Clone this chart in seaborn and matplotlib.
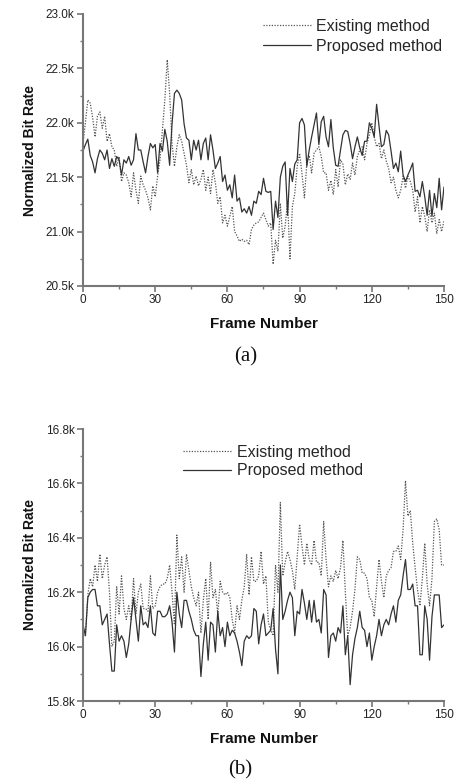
import numpy as np
import matplotlib
matplotlib.use("Agg")
import matplotlib.pyplot as plt
from matplotlib.ticker import MultipleLocator, FuncFormatter
from matplotlib.lines import Line2D
import seaborn as sns

sns.set_theme(style="ticks")
plt.rcParams["font.family"] = ["Liberation Sans", "DejaVu Sans"]

# frame index 0..150
frames = np.arange(0, 151)

# (a) normalized bit rate in k
exist_a = [
    21.81, 22.00, 22.21, 22.18, 22.05, 21.87, 22.06, 22.10, 21.95, 22.06,
    21.83, 21.90, 21.78, 21.75, 21.60, 21.69, 21.46, 21.54, 21.52, 21.45,
    21.32, 21.54, 21.38, 21.26, 21.51, 21.43, 21.38, 21.31, 21.20, 21.42,
    21.32, 21.51, 21.66, 21.93, 22.21, 22.58, 22.27, 21.81, 21.60, 21.78,
    21.89, 21.83, 21.72, 21.61, 21.45, 21.57, 21.43, 21.51, 21.42, 21.48,
    21.57, 21.38, 21.50, 21.35, 21.57, 21.45, 21.26, 21.32, 21.08, 21.15,
    21.05, 21.14, 21.23, 21.00, 20.96, 20.91, 20.93, 20.91, 20.92, 20.88,
    21.02, 21.06, 21.08, 21.09, 21.13, 21.17, 21.11, 21.05, 21.08, 20.70,
    20.92, 20.82, 21.26, 20.94, 21.05, 21.28, 20.75, 21.23, 21.35, 21.60,
    21.72, 21.53, 21.31, 21.63, 21.70, 21.54, 21.72, 21.75, 21.78, 21.69,
    21.54, 21.54, 21.38, 21.47, 21.34, 21.57, 21.41, 21.66, 21.62, 21.43,
    21.53, 21.48, 21.63, 21.52, 21.69, 21.75, 21.78, 21.66, 21.81, 21.89,
    22.00, 21.87, 21.78, 21.81, 21.67, 21.75, 21.65, 21.58, 21.45, 21.50,
    21.38, 21.31, 21.38, 21.51, 21.40, 21.51, 21.46, 21.38, 21.18, 21.32,
    21.08, 21.23, 21.14, 21.00, 21.20, 21.08, 21.17, 20.98, 21.11, 21.00,
    21.10,
]
prop_a = [
    21.74, 21.80, 21.85, 21.70, 21.64, 21.54, 21.67, 21.75, 21.72, 21.66,
    21.75, 21.58, 21.67, 21.60, 21.69, 21.66, 21.52, 21.66, 21.63, 21.69,
    21.61, 21.66, 21.90, 21.75, 21.75, 21.64, 21.54, 21.69, 21.81, 21.77,
    21.80, 21.54, 21.81, 21.74, 21.94, 21.83, 21.61, 21.99, 22.27, 22.30,
    22.27, 22.21, 21.99, 21.86, 21.84, 21.66, 21.84, 21.75, 21.84, 21.66,
    21.81, 21.86, 21.66, 21.89, 21.75, 21.58, 21.63, 21.69, 21.46, 21.52,
    21.38, 21.43, 21.31, 21.52, 21.28, 21.31, 21.18, 21.21, 21.17, 21.23,
    21.15, 21.28, 21.26, 21.37, 21.34, 21.49, 21.37, 21.36, 21.37, 21.02,
    21.28, 21.13, 21.50, 21.60, 21.64, 21.15, 21.58, 21.46, 21.62, 21.66,
    22.00, 22.04, 21.98, 21.60, 21.75, 21.87, 21.98, 22.09, 21.80, 22.01,
    22.06, 21.87, 21.78, 22.03, 21.77, 21.61, 21.60, 21.75, 21.89, 21.93,
    21.92, 21.81, 21.67, 21.78, 21.87, 21.77, 21.70, 21.83, 21.83, 22.00,
    21.95, 21.87, 22.17, 21.97, 21.78, 21.80, 21.93, 21.89, 21.74, 21.58,
    21.63, 21.55, 21.74, 21.52, 21.46, 21.52, 21.57, 21.63, 21.37, 21.38,
    21.32, 21.46, 21.32, 21.15, 21.38, 21.14, 21.35, 21.22, 21.49, 21.20,
    21.41,
]

# (b) normalized bit rate in k
exist_b = [
    16.04, 16.04, 16.19, 16.25, 16.22, 16.30, 16.24, 16.34, 16.25, 16.30,
    16.33, 16.20, 16.00, 16.02, 16.22, 16.12, 16.26, 16.14, 16.10, 16.15,
    16.10, 16.25, 16.12, 16.20, 16.23, 16.14, 16.14, 16.13, 16.26, 16.14,
    16.15, 16.20, 16.22, 16.23, 16.23, 16.25, 16.30, 16.20, 16.08, 16.41,
    16.25, 16.33, 16.20, 16.34, 16.28, 16.22, 16.18, 16.15, 16.20, 16.05,
    16.17, 16.25, 16.10, 16.31, 16.18, 16.21, 16.12, 16.24, 16.20, 16.19,
    16.20, 16.18, 16.10, 16.05, 16.15, 16.10, 16.17, 16.22, 16.34, 16.19,
    16.33, 16.24, 16.24, 16.26, 16.35, 16.23, 16.26, 16.09, 16.06, 16.04,
    16.30, 16.20, 16.53, 16.26, 16.31, 16.35, 16.32, 16.28, 16.21, 16.33,
    16.45, 16.37, 16.30, 16.38, 16.32, 16.30, 16.39, 16.31, 16.31, 16.26,
    16.46, 16.32, 16.22, 16.26, 16.24, 16.28, 16.25, 16.29, 16.39, 16.20,
    16.04, 16.07, 16.13, 16.21, 16.33, 16.32, 16.27, 16.27, 16.25, 16.18,
    16.17, 16.11, 16.22, 16.32, 16.24, 16.18, 16.26, 16.28, 16.29, 16.35,
    16.35, 16.37, 16.32, 16.43, 16.61, 16.48, 16.50, 16.38, 16.29, 16.21,
    16.15, 16.25, 16.38, 16.23, 16.15, 16.25, 16.46, 16.47, 16.43, 16.30,
    16.30,
]
prop_b = [
    16.08, 16.04, 16.18, 16.20, 16.21, 16.21, 16.15, 16.15, 16.08, 16.10,
    16.12, 16.01, 15.91, 15.91, 16.08, 16.02, 16.04, 16.02, 15.96, 16.01,
    16.10, 16.18, 16.10, 16.02, 16.15, 16.08, 16.09, 16.07, 16.15, 16.05,
    16.04, 16.13, 16.13, 16.11, 16.11, 16.12, 16.15, 16.09, 15.98, 16.20,
    16.12, 16.07, 16.17, 16.17, 16.13, 16.10, 16.06, 16.04, 16.04, 15.89,
    16.01, 16.09, 15.95, 16.09, 16.08, 15.98, 16.13, 16.04, 16.07, 16.00,
    16.09, 16.04, 16.06, 16.05, 16.02, 15.98, 15.93, 16.02, 16.04, 16.03,
    16.04, 16.14, 16.13, 16.01, 16.08, 16.12, 16.04, 16.05, 16.06, 16.14,
    15.99, 15.90, 16.30, 16.10, 16.13, 16.17, 16.20, 16.18, 16.04, 16.13,
    16.12, 16.21, 16.16, 16.10, 16.17, 16.09, 16.17, 16.09, 16.10, 16.05,
    16.21, 16.19, 15.96, 16.04, 16.05, 16.02, 16.07, 16.05, 16.15, 15.97,
    16.04, 15.86, 15.97, 16.03, 16.07, 16.13, 16.07, 16.06, 16.00, 16.05,
    15.95, 16.00, 16.04, 16.10, 16.04, 16.08, 16.10, 16.08, 16.12, 16.15,
    16.09, 16.17, 16.19, 16.26, 16.32, 16.21, 16.21, 16.23, 16.15, 16.15,
    15.97, 15.97, 16.15, 16.10, 15.95, 16.11, 16.19, 16.19, 16.19, 16.07,
    16.08,
]

labels = ["Existing method", "Proposed method"]
EXIST_COLOR = "#555555"
PROP_COLOR = "#333333"
SPINE_COLOR = "#777777"

fig = plt.figure(figsize=(4.56, 7.82), dpi=100)
ax_a = fig.add_axes([83 / 456, 1 - 286 / 782, 361 / 456, 272 / 782])
ax_b = fig.add_axes([83 / 456, 1 - 701 / 782, 361 / 456, 272 / 782])


def style_axis(ax, ylim, major, minor):
    ax.set_xlim(0, 150)
    ax.set_ylim(*ylim)
    ax.xaxis.set_major_locator(MultipleLocator(30))
    ax.xaxis.set_minor_locator(MultipleLocator(15))
    ax.yaxis.set_major_locator(MultipleLocator(major))
    ax.yaxis.set_minor_locator(MultipleLocator(minor))
    ax.yaxis.set_major_formatter(FuncFormatter(lambda v, p: f"{v:.1f}k"))
    for side in ["top", "right"]:
        ax.spines[side].set_visible(False)
    for side in ["left", "bottom"]:
        ax.spines[side].set_color(SPINE_COLOR)
        ax.spines[side].set_linewidth(1.5)
    ax.tick_params(which="major", direction="out", length=4, width=1.2,
                   color=SPINE_COLOR, labelsize=8.5, labelcolor="#222222", pad=2)
    ax.tick_params(which="minor", direction="out", length=2.5, width=1.0,
                   color=SPINE_COLOR)
    ax.set_xlabel("Frame Number", fontsize=11, fontweight="bold",
                  color="#111111", labelpad=8)
    ax.set_ylabel("Normalized Bit Rate", fontsize=10, fontweight="bold",
                  color="#111111", labelpad=6)
    ax.grid(False)


for ax, ex, pr in [(ax_a, exist_a, prop_a), (ax_b, exist_b, prop_b)]:
    sns.lineplot(x=frames, y=ex, ax=ax, color=EXIST_COLOR,
                 linestyle=(0, (1, 1.2)), linewidth=0.9)
    sns.lineplot(x=frames, y=pr, ax=ax, color=PROP_COLOR,
                 linestyle="-", linewidth=0.9)

style_axis(ax_a, (20.5, 23.0), 0.5, 0.25)
style_axis(ax_b, (15.8, 16.8), 0.2, 0.1)

handles = [Line2D([], [], color=EXIST_COLOR, linestyle=(0, (1, 1.2)), linewidth=0.9),
           Line2D([], [], color=PROP_COLOR, linestyle="-", linewidth=0.9)]

ax_a.legend(handles, labels, loc="upper left", bbox_to_anchor=(0.48, 1.005),
            frameon=False, fontsize=11.5, handlelength=3.0, handletextpad=0.35,
            labelspacing=0.3, borderaxespad=0)
ax_b.legend(handles, labels, loc="upper left", bbox_to_anchor=(0.26, 0.965),
            frameon=False, fontsize=11.5, handlelength=3.0, handletextpad=0.35,
            labelspacing=0.2, borderaxespad=0)

fig.text(246 / 456, 1 - 357 / 782, "(a)", ha="center", va="center",
         fontsize=15, family=["Liberation Serif", "DejaVu Serif"], color="#111111")
fig.text(240 / 456, 1 - 770 / 782, "(b)", ha="center", va="center",
         fontsize=15, family=["Liberation Serif", "DejaVu Serif"], color="#111111")

fig.savefig("out.png", dpi=100)
